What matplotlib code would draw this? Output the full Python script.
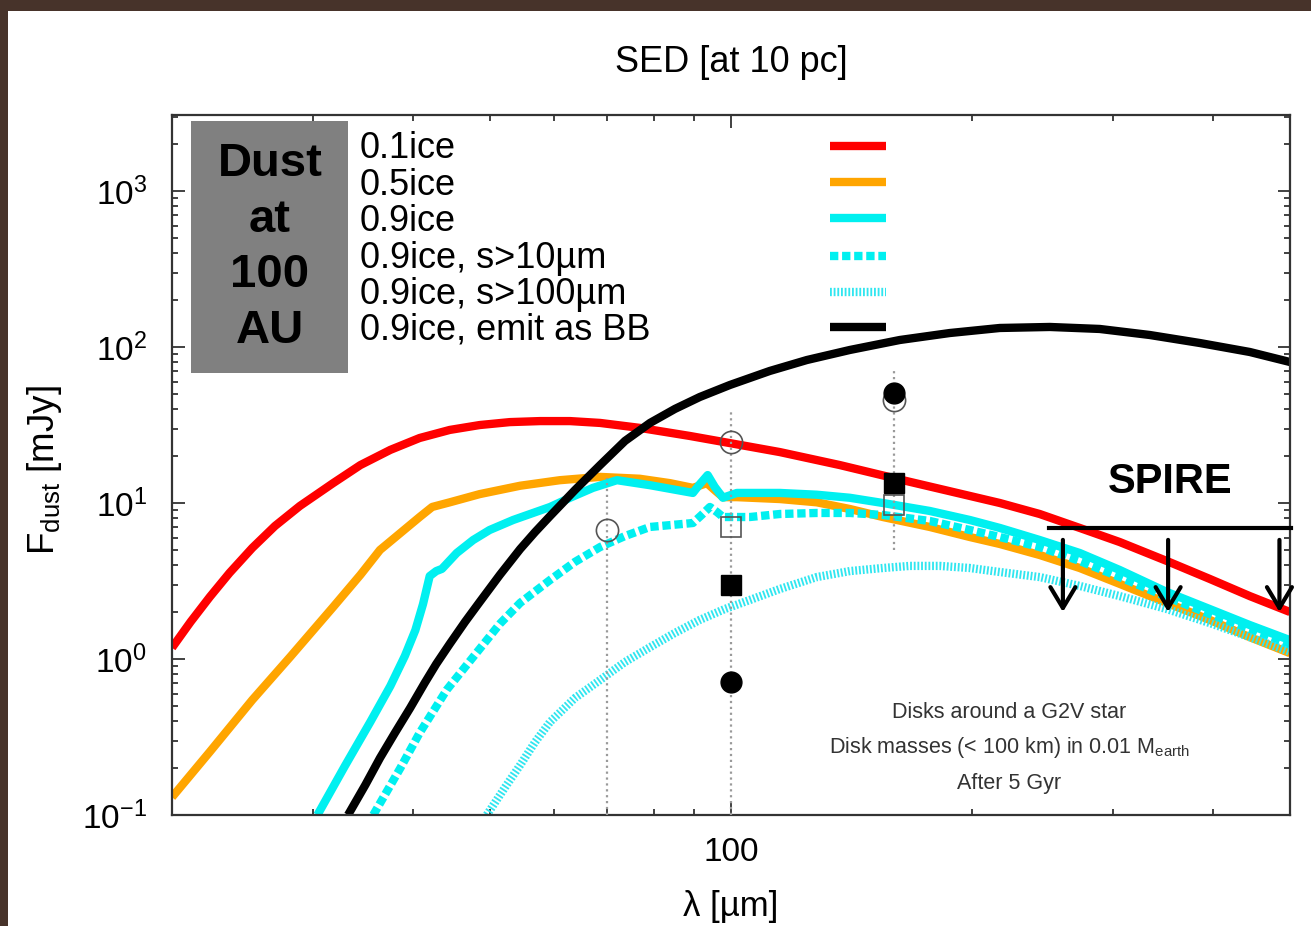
import matplotlib
matplotlib.use("Agg")
import matplotlib.pyplot as plt
from matplotlib.patches import Rectangle
from matplotlib.lines import Line2D
from matplotlib.ticker import LogLocator, NullFormatter, LogFormatterMathtext

plt.rcParams["font.family"] = ["Liberation Sans", "DejaVu Sans"]
plt.rcParams["mathtext.fontset"] = "custom"
plt.rcParams["mathtext.rm"] = "Liberation Sans"
plt.rcParams["mathtext.it"] = "Liberation Sans:italic"
plt.rcParams["mathtext.bf"] = "Liberation Sans:bold"
plt.rcParams["axes.unicode_minus"] = False

# --- model SEDs (wavelength in um, flux in mJy) ---
lam_01 = [20.0, 21.1, 22.3, 23.6, 25.2, 26.9, 28.9, 31.8, 34.4, 37.5, 40.8, 44.5,
          48.5, 52.9, 57.7, 62.9, 68.6, 76.9, 88.8, 99.7, 115.1, 136.8, 159.3,
          187.7, 216.8, 243.2, 272.9, 306.2, 350.6, 396.8, 445.3, 500.0]
f_01 = [1.18, 1.73, 2.50, 3.56, 5.15, 7.12, 9.57, 13.4, 17.5, 21.9, 26.1, 29.4,
        31.6, 33.0, 33.5, 33.5, 32.6, 30.3, 26.9, 24.2, 21.2, 17.5, 14.5,
        11.9, 10.0, 8.50, 6.92, 5.62, 4.25, 3.26, 2.53, 2.0]

lam_05 = [20.0, 22.3, 25.2, 28.1, 31.8, 34.4, 36.4, 38.6, 40.8, 42.3, 44.5, 48.5,
          54.5, 61.1, 68.6, 76.9, 83.9, 89.6, 93.3, 95.4, 97.7, 101.7, 115.1,
          128.0, 140.8, 154.8, 177.2, 198.9, 216.8, 243.2, 272.9, 306.2, 350.6,
          396.8, 445.3, 500.0]
f_05 = [0.130, 0.254, 0.546, 1.03, 2.15, 3.46, 5.00, 6.42, 8.13, 9.43, 10.1, 11.4,
        12.9, 14.0, 14.7, 14.3, 13.4, 12.5, 13.4, 12.1, 10.9, 10.9, 10.6,
        10.1, 9.15, 8.13, 7.02, 6.05, 5.46, 4.64, 3.83, 3.03, 2.29,
        1.78, 1.38, 1.09]

lam_09 = [30.4, 32.9, 35.4, 37.5, 39.1, 40.3, 41.2, 42.0, 42.8, 43.5, 45.4, 47.6, 49.9,
          53.4, 59.4, 62.9, 67.2, 72.0, 79.2, 89.6, 91.4, 93.5, 95.4, 97.7, 101.7,
          115.1, 128.0, 140.8, 154.8, 177.2, 198.9, 216.8, 243.2, 272.9, 306.2,
          350.6, 396.8, 445.3, 500.0]
f_09 = [0.1, 0.206, 0.395, 0.671, 1.045, 1.53, 2.25, 3.40, 3.66, 3.78, 4.78, 5.79, 6.71,
        7.78, 9.43, 10.8, 12.5, 14.0, 13.0, 11.6, 13.2, 15.1, 12.7, 10.8, 11.6,
        11.6, 11.3, 10.8, 10.0, 8.89, 7.78, 6.92, 5.79, 4.78, 3.72,
        2.69, 2.09, 1.65, 1.32]

lam_09_s10 = [35.7, 38.6, 40.8, 44.1, 47.6, 51.4, 54.5, 59.4, 63.8, 68.6, 73.7,
              79.2, 89.6, 91.9, 94.1, 96.0, 97.7, 105.6, 115.1, 128.0, 140.8,
              154.8, 177.2, 198.9, 216.8, 243.2, 272.9, 306.2, 350.6, 396.8,
              445.3, 500.0]
f_09_s10 = [0.1, 0.200, 0.336, 0.633, 1.03, 1.68, 2.29, 3.21, 4.19, 5.22, 6.14,
            7.02, 7.44, 8.38, 9.43, 8.76, 8.13, 8.13, 8.50, 8.63, 8.63,
            8.38, 7.67, 6.71, 6.05, 5.22, 4.25, 3.35, 2.50, 1.94,
            1.56, 1.23]

lam_09_s100 = [49.5, 52.2, 54.5, 56.9, 59.4, 63.8, 68.6, 73.7, 79.2, 85.1, 91.4,
               98.2, 105.6, 115.1, 128.0, 140.8, 154.8, 167.3, 182.4, 198.9,
               216.8, 243.2, 272.9, 306.2, 350.6, 396.8, 445.3, 500.0]
f_09_s100 = [0.1, 0.151, 0.209, 0.294, 0.395, 0.562, 0.733, 0.957, 1.19, 1.47,
             1.78, 2.09, 2.39, 2.81, 3.35, 3.66, 3.83, 3.95, 3.95, 3.83,
             3.61, 3.35, 2.94, 2.53, 2.09, 1.70, 1.38, 1.11]

lam_bb = [33.2, 34.9, 36.4, 38.0, 39.7, 41.4, 42.8, 44.5, 46.5, 48.5, 51.4, 54.5,
          56.9, 59.4, 63.8, 68.6, 73.7, 79.2, 85.1, 91.4, 99.7, 111.8, 124.4,
          140.8, 162.6, 187.7, 216.8, 250.4, 289.1, 333.8, 385.5, 445.3, 500.0]
f_bb = [0.1, 0.156, 0.232, 0.336, 0.485, 0.702, 0.929, 1.25, 1.73, 2.32, 3.46, 5.07,
        6.52, 8.25, 12.1, 17.5, 25.0, 32.6, 40.1, 47.8, 57.1, 70.2, 82.5,
        95.7, 110.9, 122.9, 132.4, 134.4, 130.5, 119.4, 106.1, 92.9, 80.1]

# --- observed points ---
oc_lam = [70, 100, 160]
oc_f = [6.7, 24.6, 45.7]
os_lam = [100, 160]
os_f = [7.0, 9.7]
fs_lam = [100, 160]
fs_f = [2.98, 13.4]
fc_lam = [100, 160]
fc_f = [0.71, 50.7]
err_lam = [70, 100, 160]
err_lo = [0.1, 0.1, 5.0]
err_hi = [14.5, 39.0, 73.0]

# SPIRE upper limits
spire_lam = [260, 352, 485]
spire_top = 5.8
spire_bottom = 2.0
spire_level = 6.9
spire_span = [250, 502]

labels = ["0.1ice", "0.5ice", "0.9ice", "0.9ice, s>10\u00b5m",
          "0.9ice, s>100\u00b5m", "0.9ice, emit as BB"]

fig = plt.figure(figsize=(13.11, 9.26), dpi=100)
ax = fig.add_axes([0.1312, 0.1199, 0.8528, 0.7559])

lw = 6
styles = [
    dict(color="#ff0000", lw=lw, ls="-", solid_capstyle="butt"),
    dict(color="#ffa500", lw=lw, ls="-", solid_capstyle="butt"),
    dict(color="#00f0f0", lw=lw, ls="-", solid_capstyle="butt"),
    dict(color="#00f0f0", lw=lw, ls=(0, (1.0, 0.45)), dash_capstyle="butt"),
    dict(color="#30e6f0", lw=6, ls=(0, (0.22, 0.22)), dash_capstyle="butt"),
    dict(color="#000000", lw=lw, ls="-", solid_capstyle="butt"),
]
series = [(lam_01, f_01), (lam_05, f_05), (lam_09, f_09),
          (lam_09_s10, f_09_s10), (lam_09_s100, f_09_s100), (lam_bb, f_bb)]
for (x, y), st in zip(series, styles):
    ax.plot(x, y, solid_joinstyle="round", **st)

# error bars and points
ax.vlines(err_lam, err_lo, err_hi, colors="#9a9a9a", linestyles=":", lw=1.6, zorder=3)
ax.plot(oc_lam, oc_f, "o", ms=16, mfc="none", mec="#555555", mew=1.2, zorder=4)
ax.plot(os_lam, os_f, "s", ms=15, mfc="none", mec="#555555", mew=1.2, zorder=4)
ax.plot(fs_lam, fs_f, "s", ms=15, mfc="black", mec="black", zorder=5)
ax.plot(fc_lam, fc_f, "o", ms=15, mfc="black", mec="black", zorder=5)

# SPIRE
ax.plot(spire_span, [spire_level, spire_level], color="black", lw=3, clip_on=False, zorder=6)
for s in spire_lam:
    ax.annotate("", xy=(s, spire_bottom), xytext=(s, spire_top),
                arrowprops=dict(arrowstyle="->,head_length=0.75,head_width=0.45",
                                lw=3, color="black", mutation_scale=20,
                                shrinkA=0, shrinkB=0), zorder=6)
ax.text(354, 13.6, "SPIRE", fontsize=30, fontweight="bold", ha="center", va="center")

ax.set_xscale("log")
ax.set_yscale("log")
ax.set_xlim(20, 500)
ax.set_ylim(0.1, 3070)

ax.set_xticks([100])
ax.set_xticklabels(["100"])
ax.set_xticks([20, 30, 40, 50, 60, 70, 80, 90, 200, 300, 400, 500], minor=True)
ax.xaxis.set_minor_formatter(NullFormatter())
ax.yaxis.set_major_locator(LogLocator(base=10, numticks=10))
ax.yaxis.set_major_formatter(LogFormatterMathtext())
ax.yaxis.set_minor_locator(LogLocator(base=10, subs=range(2, 10), numticks=50))
ax.yaxis.set_minor_formatter(NullFormatter())
ax.tick_params(which="both", direction="in", top=True, right=True, color="#333333", width=1.3)
ax.tick_params(which="major", length=9, labelsize=24)
ax.tick_params(which="minor", length=4.5)
ax.tick_params(axis="x", which="major", pad=16)
ax.tick_params(axis="y", which="major", pad=18)
for sp in ax.spines.values():
    sp.set_color("#333333")
    sp.set_linewidth(1.6)

# legend drawn gnuplot style: text on the left, sample on the right
text_base = [0.938, 0.8864, 0.835, 0.781, 0.7293, 0.6793]
line_y = [0.956, 0.904, 0.853, 0.799, 0.747, 0.697]
for lab, st, yb, yl in zip(labels, styles, text_base, line_y):
    ax.text(0.168, yb, lab, transform=ax.transAxes, fontsize=26, va="baseline", ha="left")
    ax.add_line(Line2D([0.5886, 0.6386], [yl, yl], transform=ax.transAxes, **st))

# grey box
ax.add_patch(Rectangle((0.017, 0.631), 0.1404, 0.36, transform=ax.transAxes,
                       facecolor="#808080", edgecolor="none", zorder=7))
ax.text(0.0877, 0.811, "Dust\nat\n100\nAU", transform=ax.transAxes, fontsize=34,
        fontweight="bold", ha="center", va="center", linespacing=1.34, zorder=8)

# annotation
ax.text(0.7487, 0.1457, "Disks around a G2V star", transform=ax.transAxes,
        fontsize=15.5, color="#333333", ha="center", va="center")
ax.text(0.7487, 0.0971, "Disk masses (< 100 km) in 0.01 M$_{\\mathrm{earth}}$",
        transform=ax.transAxes, fontsize=15.5, color="#333333", ha="center", va="center")
ax.text(0.7487, 0.0443, "After 5 Gyr", transform=ax.transAxes,
        fontsize=15.5, color="#333333", ha="center", va="center")

fig.text(0.5576, 1 - 72 / 926, "SED [at 10 pc]", fontsize=26, ha="center", va="baseline")
fig.text(0.5576, 10 / 926, "\u03bb [\u00b5m]", fontsize=25, ha="center", va="baseline")
fig.text(0.0343, 0.4924, "F$_{\\mathrm{dust}}$ [mJy]", fontsize=26.5, rotation=90,
         ha="center", va="center")

# dark frame of the slide
brown = "#47332a"
fig.patches.append(Rectangle((0, 1 - 11 / 926), 1, 11 / 926, transform=fig.transFigure,
                             facecolor=brown, edgecolor="none"))
fig.patches.append(Rectangle((0, 0), 8 / 1311, 1, transform=fig.transFigure,
                             facecolor=brown, edgecolor="none"))

fig.savefig("out.png", dpi=100)
